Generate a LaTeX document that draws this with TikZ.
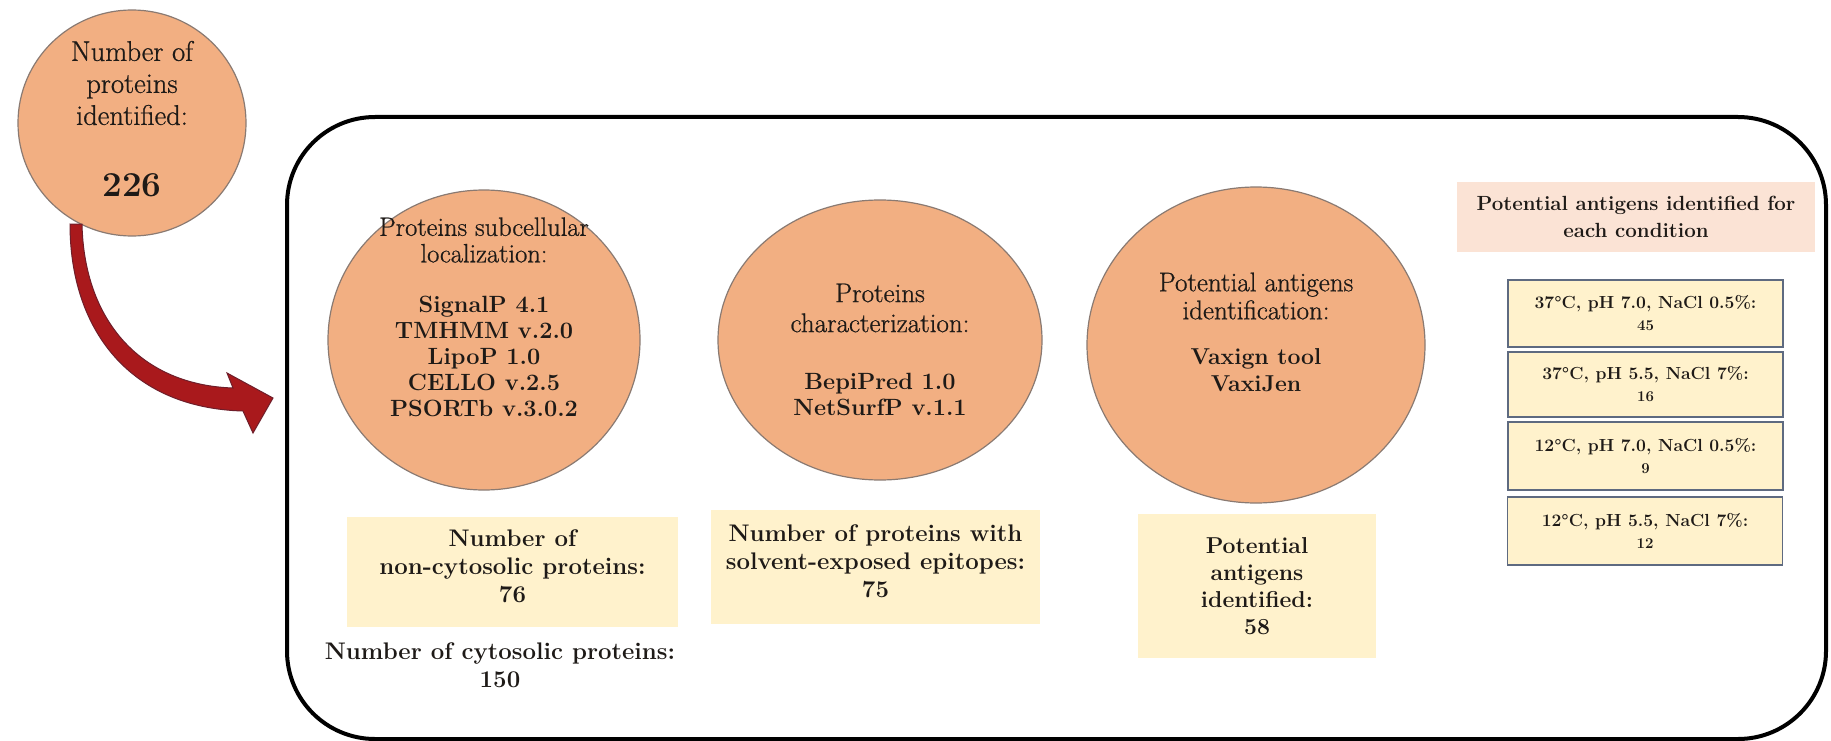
\documentclass[tikz,border=0pt]{standalone}
\usepackage{fontspec}
\newfontfamily\heavyrm{Latin Modern Roman}[FakeBold=0.8]
\usetikzlibrary{shapes.geometric}
\definecolor{orfill}{HTML}{F2AF82}
\definecolor{orline}{HTML}{8A7A72}
\definecolor{ybfill}{HTML}{FFF2CC}
\definecolor{hdfill}{HTML}{FBE3D5}
\definecolor{cbline}{HTML}{5E6A80}
\definecolor{txtc}{HTML}{1E1A17}
\definecolor{arrfill}{HTML}{A9191C}
\definecolor{arrline}{HTML}{6E1E2A}
\begin{document}
\begin{tikzpicture}[x=1pt,y=-1pt,
  ell/.style={ellipse, fill=orfill, draw=orline, line width=1.2pt, inner sep=0pt},
  ybox/.style={rectangle, fill=ybfill, inner sep=0pt, align=center, text=txtc},
  hbox/.style={rectangle, fill=hdfill, inner sep=0pt, align=center, text=txtc},
  cbox/.style={rectangle, fill=ybfill, draw=cbline, line width=1.8pt, inner sep=0pt, align=center, text=txtc,
     minimum width=275pt, font=\bfseries\fontsize{17.5}{22}\selectfont},
  txt/.style={align=center, text=txtc, inner sep=0pt},
  fE/.style={font=\heavyrm\fontsize{26.5}{26.5}\selectfont},
  fB/.style={font=\bfseries\fontsize{23.5}{26}\selectfont},
  fN/.style={font=\bfseries\fontsize{24}{28}\selectfont}
]
\useasboundingbox (0,0) rectangle (1831,741);
\fill[white] (0,0) rectangle (1831,741);

% main frame
\draw[line width=4pt, rounded corners=88pt] (287,117) rectangle (1826,739);

% first circle
\node[ell, minimum width=228pt, minimum height=226pt] (c0) at (132,123) {};
\node[txt, font=\heavyrm\fontsize{28.5}{32}\selectfont] (c0t) at (132,83) {Number of\\proteins\\identified:};
\node[txt, font=\bfseries\fontsize{35}{40}\selectfont] (c0n) at (132,185) {226};

% curved arrow
\coordinate (arrA) at (70,224);
\coordinate (arrB) at (82,224);
\fill[arrfill, draw=arrline, line width=1pt]
  (arrA) .. controls (70,330) and (130,408) .. (243,411)
  -- (253,433) -- (273,398) -- (227,373) -- (233,388)
  .. controls (140,385) and (84,320) .. (arrB) -- cycle;

% ellipse 1
\node[ell, minimum width=312pt, minimum height=300pt] (e1) at (484,340) {};
\node[txt, fE] (e1t) at (484,240) {Proteins subcellular\\localization:};
\node[txt, fB] (e1b) at (484,356) {SignalP 4.1\\TMHMM v.2.0\\LipoP 1.0\\CELLO v.2.5\\PSORTb v.3.0.2};

% ellipse 2
\node[ell, minimum width=324pt, minimum height=280pt] (e2) at (880,340) {};
\node[txt, font=\heavyrm\fontsize{27}{30}\selectfont] (e2t) at (880,308) {Proteins\\characterization:};
\node[txt, fB] (e2b) at (880,394) {BepiPred 1.0\\NetSurfP v.1.1};

% ellipse 3
\node[ell, minimum width=338pt, minimum height=316pt] (e3) at (1256,345) {};
\node[txt, font=\heavyrm\fontsize{27}{28}\selectfont] (e3t) at (1256,296) {Potential antigens\\identification:};
\node[txt, font=\bfseries\fontsize{23}{27}\selectfont] (e3b) at (1256,370) {Vaxign tool\\VaxiJen};

% result boxes
\node[ybox, minimum width=331pt, minimum height=110pt] (b1) at (512.5,572) {};
\node[txt, fN] (b1t) at (512.5,566) {Number of\\non-cytosolic proteins:\\76};
\node[txt, fN] (b1c) at (500,665) {Number of cytosolic proteins:\\150};
\node[ybox, minimum width=329pt, minimum height=114pt] (b2) at (875.5,567) {};
\node[txt, fN] (b2t) at (875.5,561) {Number of proteins with\\solvent-exposed epitopes:\\75};
\node[ybox, font=\bfseries\fontsize{23}{27}\selectfont, minimum width=238pt, minimum height=144pt] (b3) at (1257,586) {Potential\\antigens\\identified:\\58};

% conditions
\node[hbox, minimum width=358pt, minimum height=70pt, font=\bfseries\fontsize{20.5}{27}\selectfont] (hd) at (1636,217) {Potential antigens identified for\\each condition};
\node[cbox, minimum height=67pt] (k1) at (1645.5,313.5) {37°C, pH 7.0, NaCl 0.5\%:\\{\fontsize{15}{18}\selectfont 45}};
\node[cbox, minimum height=65pt] (k2) at (1645.5,384.5) {37°C, pH 5.5, NaCl 7\%:\\{\fontsize{15}{18}\selectfont 16}};
\node[cbox, minimum height=68pt] (k3) at (1645.5,456) {12°C, pH 7.0, NaCl 0.5\%:\\{\fontsize{15}{18}\selectfont 9}};
\node[cbox, minimum height=68pt] (k4) at (1645,531) {12°C, pH 5.5, NaCl 7\%:\\{\fontsize{15}{18}\selectfont 12}};
\end{tikzpicture}
\end{document}
